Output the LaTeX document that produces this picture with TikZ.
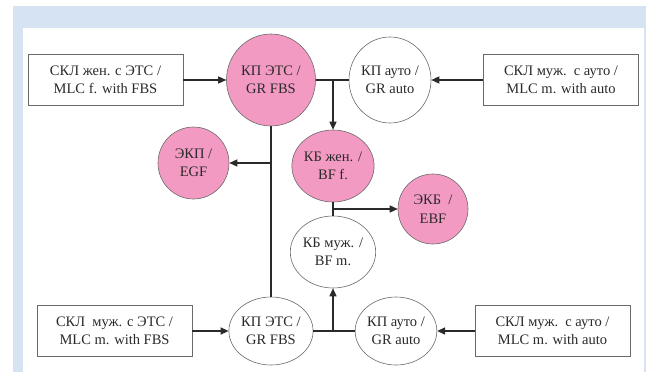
\documentclass[tikz,border=0pt]{standalone}
\usepackage{fontspec}
\setmainfont{Liberation Serif}
\usetikzlibrary{shapes.geometric,arrows.meta}
\definecolor{bgblue}{HTML}{D6E3F3}
\definecolor{pinkfill}{HTML}{F39AC3}
\definecolor{inkc}{HTML}{2A2A2A}
\tikzset{
  lbl/.style={align=center,font=\fontsize{14.5}{18.5}\selectfont,text=inkc,inner sep=0pt},
  ell/.style={lbl,ellipse,draw=inkc!70,line width=0.6pt},
  pinkell/.style={ell,fill=pinkfill},
  whiteell/.style={ell,fill=white},
  box/.style={lbl,rectangle,draw=inkc!70,line width=0.6pt,minimum width=155,minimum height=51},
  conn/.style={draw=inkc,line width=1.4pt},
  arr/.style={conn,-{Triangle[length=8pt,width=7pt]}}
}
\begin{document}
\begin{tikzpicture}[x=1pt,y=-1pt]
\useasboundingbox (0,0) rectangle (646,372);
\fill[bgblue] (13,6) rectangle (646,372);
\fill[white] (23,28) rectangle (644,372);

% top row
\node[box] (b1) at (105.5,80) {СКЛ жен. с ЭТС /\\MLC f. with FBS};
\node[pinkell,minimum width=89,minimum height=92] (gr1) at (271,80) {КП ЭТС /\\GR FBS};
\node[whiteell,minimum width=82,minimum height=86] (ga1) at (390,80) {КП ауто /\\GR auto};
\node[box] (b2) at (561,80) {СКЛ муж.\ \ с ауто /\\MLC m. with auto};

% middle
\node[pinkell,minimum width=71,minimum height=72] (ekp) at (193.5,163) {ЭКП /\\EGF};
\node[pinkell,minimum width=71,minimum height=72] (kbf) at (333,166) {КБ жен. /\\BF f.};
\node[pinkell,minimum width=70,minimum height=70] (ekb) at (433,209) {ЭКБ\ \ /\\EBF};
\node[whiteell,minimum width=71,minimum height=72] (kbm) at (333,252) {КБ муж. /\\BF m.};

% bottom row
\node[box] (b3) at (114.5,331) {СКЛ\ \ муж. с ЭТС /\\MLC m. with FBS};
\node[whiteell,minimum width=70,minimum height=68] (gr2) at (271,331) {КП ЭТС /\\GR FBS};
\node[whiteell,minimum width=72,minimum height=68] (ga2) at (396,331) {КП ауто /\\GR auto};
\node[box] (b4) at (552.5,331) {СКЛ муж.\ \ с ауто /\\MLC m. with auto};

% junctions
\coordinate (j1) at (333,80);
\coordinate (j2) at (271,163);
\coordinate (j3) at (333,209);
\coordinate (j4) at (333,331);

% connectors
\draw[arr] (b1) -- (gr1);
\draw[arr] (b2) -- (ga1);
\draw[conn] (gr1) -- (ga1);
\draw[arr] (j1) -- (kbf);
\draw[conn] (gr1) -- (gr2);
\draw[arr] (j2) -- (ekp);
\draw[conn] (kbf) -- (kbm);
\draw[arr] (j3) -- (ekb);
\draw[arr] (b3) -- (gr2);
\draw[arr] (b4) -- (ga2);
\draw[conn] (gr2) -- (ga2);
\draw[arr] (j4) -- (kbm);
\end{tikzpicture}
\end{document}
